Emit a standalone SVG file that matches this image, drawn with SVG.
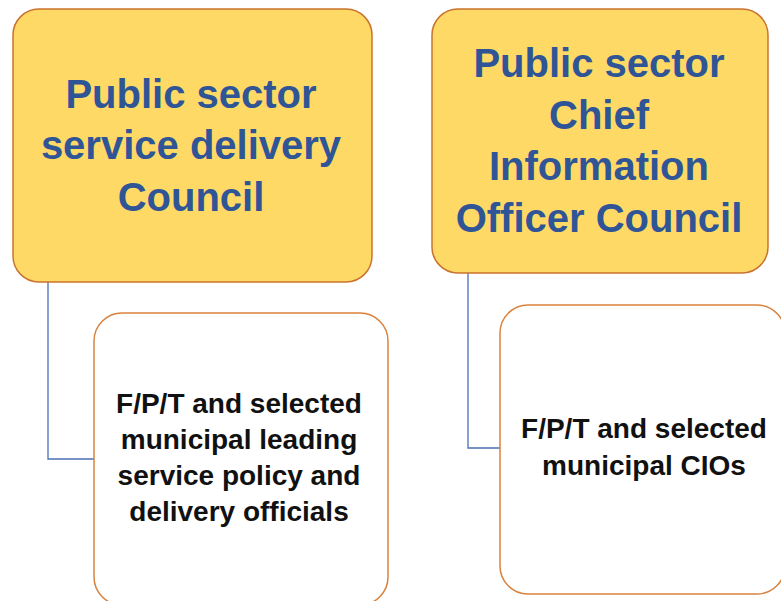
<svg xmlns="http://www.w3.org/2000/svg" width="781" height="601" viewBox="0 0 781 601">
  <style>
    .council { fill: #FED966; stroke: #C9732E; stroke-width: 1.5; }
    .member { fill: #FFFFFF; stroke: #D9823E; stroke-width: 1.5; }
    .link { fill: none; stroke: #4A6FB5; stroke-width: 1.3; }
    .title { font-family: "Liberation Sans", Arial, sans-serif; font-weight: bold; font-size: 40px; fill: #2F5597; text-anchor: middle; }
    .body { font-family: "Liberation Sans", Arial, sans-serif; font-weight: bold; font-size: 28px; fill: #111111; text-anchor: middle; }
  </style>
  <rect x="0" y="0" width="781" height="601" fill="#FFFFFF"/>

  <g id="connectors">
    <polyline class="link" points="48,282 48,459 94,459"/>
    <polyline class="link" points="468,273 468,448 500,448"/>
  </g>

  <g id="service-delivery-council">
    <rect class="council" x="13" y="9" width="359" height="273" rx="26"/>
    <text class="title" x="191" y="108">Public sector</text>
    <text class="title" x="191" y="159">service delivery</text>
    <text class="title" x="191" y="211">Council</text>
  </g>

  <g id="cio-council">
    <rect class="council" x="432" y="9" width="336" height="264" rx="26"/>
    <text class="title" x="599" y="77">Public sector</text>
    <text class="title" x="599" y="129">Chief</text>
    <text class="title" x="599" y="180">Information</text>
    <text class="title" x="599" y="232">Officer Council</text>
  </g>

  <g id="service-delivery-members">
    <rect class="member" x="94" y="313" width="294" height="292" rx="28"/>
    <text class="body" x="239" y="413">F/P/T and selected</text>
    <text class="body" x="239" y="449">municipal leading</text>
    <text class="body" x="239" y="485">service policy and</text>
    <text class="body" x="239" y="521">delivery officials</text>
  </g>

  <g id="cio-members">
    <rect class="member" x="500" y="305" width="285" height="289" rx="28"/>
    <text class="body" x="644" y="438">F/P/T and selected</text>
    <text class="body" x="644" y="475">municipal CIOs</text>
  </g>
</svg>
